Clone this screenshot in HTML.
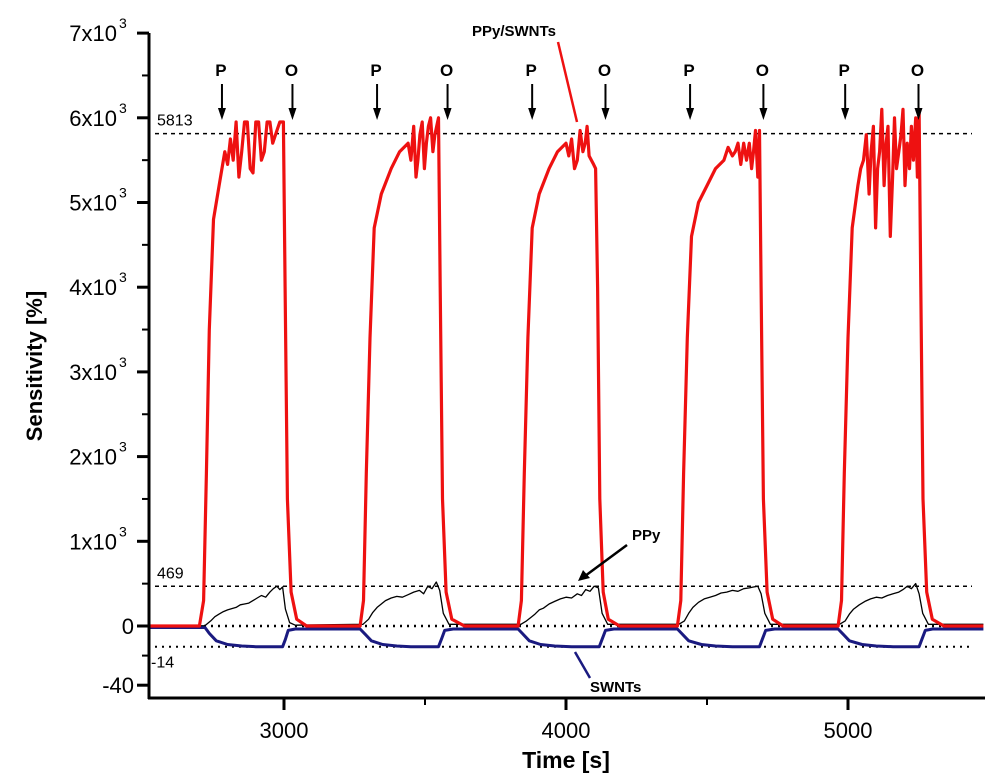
<!DOCTYPE html>
<html><head><meta charset="utf-8"><style>
body{margin:0;background:#fff}
svg{display:block;font-family:"Liberation Sans",Arial,sans-serif}
</style></head><body>
<svg id="chart" width="1000" height="784" viewBox="0 0 1000 784" xmlns="http://www.w3.org/2000/svg">
<g id="grid"></g><g id="series"></g><g id="axes"></g><g id="ann"></g>
</svg>
<script>
const xTicks=[3000,4000,5000];
const xMinor=[2500,3500,4500,5500];
const yTicksPos=[1000,2000,3000,4000,5000,6000,7000];
const yTickLabels=["1x10","2x10","3x10","4x10","5x10","6x10","7x10"];
const refLines=[5813,469,0,-14];
const refLabels=["5813","469","","-14"];
const pTimes=[2780,3330,3880,4440,4990];
const oTimes=[3030,3580,4140,4700,5250];
const redCycle1=[[2520,0],[2700,0],[2715,300],[2725,1800],[2735,3500],[2750,4800],[2770,5200],[2790,5600],[2800,5450],[2810,5750],[2820,5500],[2830,5950],[2840,5300],[2850,5600],[2860,5950],[2870,5950],[2880,5400],[2890,5350],[2900,5950],[2910,5950],[2920,5500],[2930,5600],[2940,5950],[2950,5950],[2960,5700],[2970,5800],[2985,5950],[2998,5950],[3004,4000],[3012,1500],[3025,400],[3045,80],[3080,0]];
const redCycle2=[[3270,0],[3282,300],[3292,1800],[3305,3400],[3320,4700],[3345,5100],[3380,5400],[3410,5600],[3440,5700],[3450,5500],[3460,5900],[3468,5300],[3475,5500],[3482,5800],[3490,5950],[3498,5400],[3505,5700],[3512,5900],[3520,6000],[3528,5600],[3535,5800],[3548,6000],[3554,4000],[3562,1500],[3575,400],[3595,80],[3640,0]];
const redCycle3=[[3830,0],[3842,300],[3852,1800],[3865,3400],[3880,4700],[3905,5100],[3940,5400],[3970,5600],[4000,5700],[4010,5550],[4020,5750],[4030,5400],[4040,5500],[4050,5850],[4060,5600],[4068,5700],[4075,5900],[4082,5550],[4090,5500],[4098,5450],[4105,5400],[4112,4000],[4120,1500],[4132,400],[4150,80],[4190,0]];
const redCycle4=[[4395,0],[4407,300],[4417,1800],[4430,3400],[4445,4600],[4470,5000],[4500,5200],[4530,5400],[4560,5500],[4575,5650],[4590,5550],[4600,5600],[4610,5700],[4620,5450],[4630,5700],[4640,5500],[4650,5700],[4658,5400],[4665,5600],[4672,5850],[4680,5300],[4686,5850],[4692,4000],[4700,1500],[4713,400],[4733,80],[4770,0]];
const redCycle5=[[4965,0],[4977,300],[4987,1800],[5000,3400],[5015,4700],[5035,5200],[5045,5400],[5055,5500],[5065,5800],[5075,5100],[5082,5600],[5090,5900],[5098,4700],[5105,5400],[5112,5600],[5120,6100],[5128,5200],[5135,5700],[5142,5900],[5150,4600],[5158,5300],[5165,6000],[5172,5400],[5180,5600],[5188,5800],[5195,6100],[5202,5200],[5210,5700],[5218,5400],[5225,5900],[5232,5500],[5240,6000],[5246,5300],[5252,6100],[5258,4000],[5266,1500],[5279,400],[5299,80],[5340,0],[5480,0]];
const ppyT=[2520,2720,2740,2755,2770,2785,2800,2815,2830,2845,2860,2875,2890,2905,2920,2935,2950,2962,2975,2985,2995,3005,3020,3040,3280,3300,3315,3330,3345,3360,3380,3400,3420,3440,3460,3480,3495,3510,3525,3540,3552,3565,3585,3840,3860,3875,3890,3905,3920,3940,3960,3980,4000,4020,4040,4055,4070,4085,4100,4115,4128,4148,4400,4420,4435,4450,4470,4490,4510,4530,4550,4570,4590,4610,4630,4650,4665,4680,4692,4705,4725,4970,4990,5005,5020,5040,5060,5080,5100,5120,5140,5160,5180,5195,5210,5225,5240,5252,5265,5285,5480];
const ppyV=[0,5,60,110,140,170,190,205,220,250,260,270,300,330,360,340,400,440,470,430,460,200,40,10,20,80,160,220,260,300,330,350,340,370,400,420,380,470,440,520,420,150,20,20,60,100,140,190,210,260,290,320,340,330,380,360,430,410,470,450,150,20,20,60,150,220,280,320,340,360,390,400,420,410,440,450,460,470,380,150,20,20,60,140,200,250,290,320,340,330,360,380,400,430,470,440,500,380,150,20,20];
const swT=[2520,2720,2735,2760,2800,2850,2900,2950,2995,3005,3015,3040,3270,3285,3310,3350,3400,3450,3500,3548,3558,3570,3600,3830,3845,3870,3910,3960,4020,4080,4118,4128,4140,4170,4395,4410,4435,4480,4530,4590,4650,4686,4696,4708,4740,4965,4980,5005,5050,5100,5160,5220,5252,5262,5274,5300,5480];
const swV=[-1,-1,-5,-10,-12.5,-13.5,-14,-14,-14,-9,-3,-2,-2,-5,-10,-12.5,-13.5,-14,-14,-14,-9,-3,-2,-2,-5,-10,-12.5,-13.5,-14,-14,-14,-9,-3,-2,-2,-5,-10,-12.5,-13.5,-14,-14,-14,-9,-3,-2,-2,-5,-10,-12.5,-13.5,-14,-14,-14,-9,-3,-2,-2];

const NS="http://www.w3.org/2000/svg";
const xS=t=>284+(t-3000)*0.282;
const yS=v=>v>=0?626-v*0.0847:626-v*1.48;
function mk(tag,attrs,parent,txt){const e=document.createElementNS(NS,tag);for(const k in attrs)e.setAttribute(k,attrs[k]);if(txt!==undefined)e.textContent=txt;parent.appendChild(e);return e;}
const grid=document.getElementById('grid'),series=document.getElementById('series'),axes=document.getElementById('axes'),ann=document.getElementById('ann');

refLines.forEach((v,i)=>{
  const l=mk('line',{x1:155,x2:972,y1:yS(v),y2:yS(v),stroke:'#000','stroke-width':(v===0?2.5:(v===-14?2:1.5)),'stroke-dasharray':(v===0||v===-14)?'2,5':'4,4'},grid);
  
  
  if(refLabels[i]){
    const t=mk('text',{x:(v<0?151:157),y:(v<0?yS(v)+21:yS(v)-8),'font-size':16},grid,refLabels[i]);
    
    
  }
});

function line(T,V,color,w,name){
  const d=T.map((t,i)=>(i?'L':'M')+xS(t).toFixed(1)+','+yS(V[i]).toFixed(1)).join('');
  const p=mk('path',{d:d,fill:'none',stroke:color,'stroke-width':w,'stroke-linejoin':'round'},series);
  
  
}
line(swT,swV,'#1a1a80',3,'swnts-line');
line(ppyT,ppyV,'#000',1.3,'ppy-line');
const redAll=[...redCycle1,...redCycle2,...redCycle3,...redCycle4,...redCycle5];
line(redAll.map(p=>p[0]),redAll.map(p=>p[1]),'#ee1111',3.2,'ppy-swnts-line');

let a=mk('line',{x1:149,y1:33,x2:149,y2:699,stroke:'#000','stroke-width':3},axes);

a=mk('line',{x1:148,y1:698,x2:985,y2:698,stroke:'#000','stroke-width':3},axes);

yTicksPos.forEach((v,i)=>{
  mk('line',{x1:137,x2:149,y1:yS(v),y2:yS(v),stroke:'#000','stroke-width':3},axes);
  mk('line',{x1:142,x2:149,y1:yS(v-500),y2:yS(v-500),stroke:'#000','stroke-width':2},axes);
  const t=mk('text',{x:117,y:yS(v)+8,'font-size':22,'text-anchor':'end'},axes,yTickLabels[i]);
  
  
  mk('text',{x:119,y:yS(v)-5,'font-size':14},axes,'3');
});
[[0,'0'],[-40,'-40']].forEach(([v,s])=>{
  mk('line',{x1:137,x2:149,y1:yS(v),y2:yS(v),stroke:'#000','stroke-width':3},axes);
  const t=mk('text',{x:134,y:yS(v)+8,'font-size':22,'text-anchor':'end'},axes,s);
  
  
});
mk('line',{x1:142,x2:149,y1:yS(-20),y2:yS(-20),stroke:'#000','stroke-width':2},axes);
xTicks.forEach(v=>{
  mk('line',{x1:xS(v),x2:xS(v),y1:698,y2:710,stroke:'#000','stroke-width':3},axes);
  const t=mk('text',{x:xS(v),y:738,'font-size':22,'text-anchor':'middle'},axes,String(v));
  
  
});
xMinor.forEach(v=>{if(xS(v)>=148&&xS(v)<=986)mk('line',{x1:xS(v),x2:xS(v),y1:698,y2:705,stroke:'#000','stroke-width':2},axes);});
a=mk('text',{x:566,y:768,'font-size':23,'font-weight':'bold','text-anchor':'middle'},axes,'Time [s]');

a=mk('text',{x:0,y:0,'font-size':22,'font-weight':'bold','text-anchor':'middle',transform:'translate(42,366) rotate(-90)'},axes,'Sensitivity [%]');


function arrow(t,lab){
  const x=xS(t);
  const g=mk('g',{},ann);
  
  
  mk('text',{x:x-1,y:76,'font-size':17,'font-weight':'bold','text-anchor':'middle'},g,lab);
  mk('line',{x1:x,x2:x,y1:84,y2:112,stroke:'#000','stroke-width':2},g);
  mk('path',{d:`M${x-4},108 L${x+4},108 L${x},120 Z`,fill:'#000'},g);
}
pTimes.forEach(t=>arrow(t,'P'));
oTimes.forEach(t=>arrow(t,'O'));

a=mk('text',{x:472,y:36,'font-size':15,'font-weight':'bold'},ann,'PPy/SWNTs');

mk('line',{x1:558,y1:42,x2:577,y2:122,stroke:'#ee1111','stroke-width':2.5},ann);
a=mk('text',{x:632,y:540,'font-size':15,'font-weight':'bold'},ann,'PPy');

mk('line',{x1:627,y1:545,x2:585,y2:576,stroke:'#000','stroke-width':2.5},ann);
mk('path',{d:'M578,581 L583,570 L590,578 Z',fill:'#000'},ann);
a=mk('text',{x:590,y:692,'font-size':15,'font-weight':'bold'},ann,'SWNTs');

mk('line',{x1:590,y1:678,x2:575,y2:652,stroke:'#1a1a80','stroke-width':2.5},ann);
</script>
</body></html>
